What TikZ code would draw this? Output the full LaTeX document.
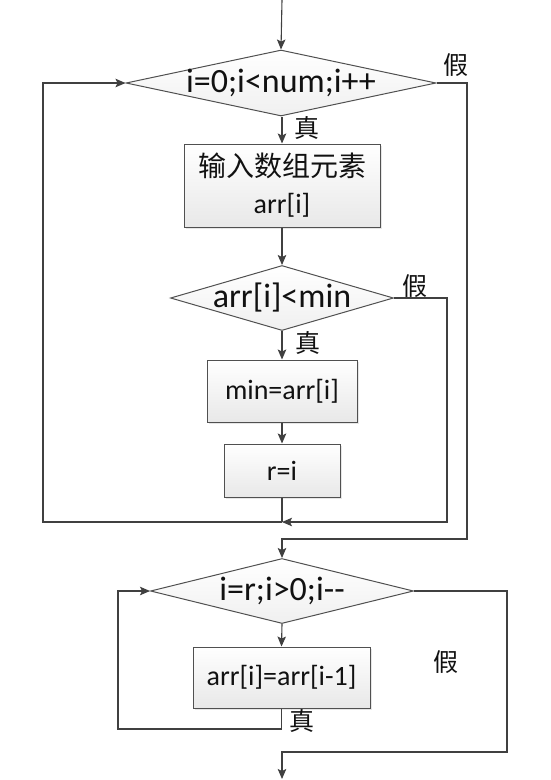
\documentclass[tikz,border=0pt]{standalone}
\usepackage{fontspec}
\setmainfont{Carlito}
\newfontfamily\cjk{Noto Sans CJK SC}
\usetikzlibrary{shapes.geometric,arrows.meta,shadows}
\definecolor{ln}{HTML}{404040}
\definecolor{bd}{HTML}{505050}
\definecolor{tx}{HTML}{111111}
\tikzset{
  arr/.style={-{Stealth[length=10pt,width=8.5pt,inset=2pt]}},
  conn/.style={draw=ln,line width=1.1pt},
  boxnode/.style={rectangle,draw=bd,line width=1pt,inner sep=0pt,
    top color=white,bottom color=gray!18,text=tx,
    drop shadow={opacity=0.2,shadow xshift=1.5pt,shadow yshift=-1.5pt}},
  dianode/.style={diamond,draw=bd,line width=1pt,inner sep=0pt,
    top color=white,bottom color=gray!12,text=tx},
  dtext/.style={text=tx,inner sep=0pt,font=\fontsize{34}{38}\selectfont},
  yn/.style={text=tx,inner sep=0pt,font=\cjk\fontsize{25}{28}\selectfont}
}
\begin{document}
\begin{tikzpicture}[x=1pt,y=-1pt]
\useasboundingbox (0,0) rectangle (550,780);
% nodes
\node[dianode,minimum width=310pt,minimum height=66pt] (d1) at (281,83) {};
\node[dtext] (d1t) at (d1) {i=0;i<num;i++};
\node[boxnode,minimum width=196pt,minimum height=83pt,align=center,
  font=\fontsize{28}{37}\selectfont] (b1) at (282,185.5) {{\cjk 输入数组元素}\\arr[i]};
\node[dianode,minimum width=223pt,minimum height=65pt] (d2) at (282,298) {};
\node[dtext] (d2t) at (d2) {arr[i]<min};
\node[boxnode,minimum width=150pt,minimum height=62pt,font=\fontsize{28}{34}\selectfont] (b2) at (282,391) {min=arr[i]};
\node[boxnode,minimum width=116pt,minimum height=53pt,font=\fontsize{28}{34}\selectfont] (b3) at (282,470.5) {r=i};
\node[dianode,minimum width=263pt,minimum height=65pt] (d3) at (282,591) {};
\node[dtext] (d3t) at (d3) {i=r;i>0;i-{}-};
\node[boxnode,minimum width=177pt,minimum height=61pt,font=\fontsize{28}{34}\selectfont] (b4) at (281.5,677.5) {arr[i]=arr[i-1]};
% labels
\node[yn] (l1) at (456,65) {假};
\node[yn] (l2) at (307,128) {真};
\node[yn] (l3) at (415,286) {假};
\node[yn] (l4) at (308,343) {真};
\node[yn] (l5) at (446,662) {假};
\node[yn] (l6) at (302,721) {真};
% helper coordinates
\coordinate (top) at (282,0);
\coordinate (j1) at (282,522);
\coordinate (c1) at (447,522);
\coordinate (cL) at (43,522);
\coordinate (c2) at (467,539);
\coordinate (c3) at (282,539);
\coordinate (c4) at (118,729);
\coordinate (c5) at (507,752);
\coordinate (c6) at (282,752);
\coordinate (bot) at (282,779);
% connectors
\draw[conn,arr] (top) -- (d1.north);
\draw[conn,arr] (d1.south -| b1.north) -- (b1.north);
\draw[conn,arr] (b1.south) -- (d2.north);
\draw[conn,arr] (d2.south) -- (b2.north);
\draw[conn,arr] (b2.south) -- (b3.north);
\draw[conn] (b3.south) -- (j1);
\draw[conn,arr] (d2.east) -| (c1) -- (j1);
\draw[conn,arr] (j1) -- (cL) |- (d1.west);
\draw[conn,arr] (d1.east) -| (c2) -- (c3) -- (d3.north);
\draw[conn,arr] (d3.south) -- (b4.north);
\draw[conn,arr] (b4.south) |- (c4) |- (d3.west);
\draw[conn,arr] (d3.east) -| (c5) -- (c6) -- (bot);
\end{tikzpicture}
\end{document}
